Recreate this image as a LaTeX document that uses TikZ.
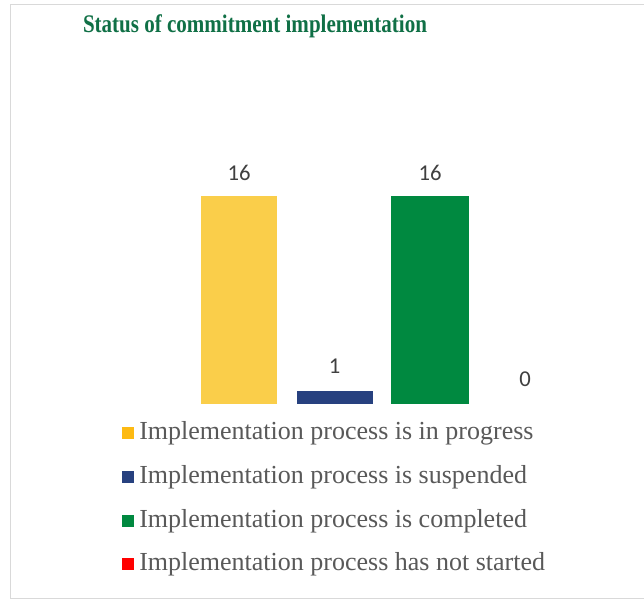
\documentclass[tikz,border=0pt]{standalone}
\usepackage{fontspec}
\setmainfont{Liberation Serif}
\newfontfamily\numfont{Carlito}

\definecolor{framegray}{RGB}{217,217,217}
\definecolor{titlegreen}{RGB}{16,112,70}
\definecolor{textgray}{RGB}{89,89,89}
\definecolor{numgray}{RGB}{64,64,64}
\definecolor{baryellow}{RGB}{250,206,74}
\definecolor{barblue}{RGB}{39,65,127}
\definecolor{bargreen}{RGB}{0,137,64}
\definecolor{keyyellow}{RGB}{253,186,19}
\definecolor{keyred}{RGB}{255,0,0}

\tikzset{
  valuelabel/.style={font=\numfont\fontsize{17}{20}\selectfont, text=numgray, inner sep=0pt},
  keytext/.style={font=\fontsize{19.5}{23}\selectfont, text=textgray, anchor=west, inner sep=0pt},
  keybox/.style={minimum size=9pt, inner sep=0pt}
}

\begin{document}
\begin{tikzpicture}[x=0.75pt,y=-0.75pt]
\useasboundingbox (0,0) rectangle (644,605);
\fill [white] (0,0) rectangle (644,605);
\draw [framegray, line width=1.2pt] (650,4.5) -- (10.5,4.5) -- (10.5,598.5) -- (650,598.5);
\node [font=\bfseries\fontsize{19}{22}\selectfont, text=titlegreen, inner sep=0pt] (title) at (255,26) {\scalebox{0.83}[1]{Status of commitment implementation}};
% bars
\fill [baryellow] (200.7,196) rectangle (277.3,404);
\fill [barblue] (296.7,391) rectangle (373.3,404);
\fill [bargreen] (391.3,196) rectangle (468.7,404);
% values
\node [valuelabel] (v1) at (239,173) {16};
\node [valuelabel] (v2) at (334.5,366) {1};
\node [valuelabel] (v3) at (430,173) {16};
\node [valuelabel] (v4) at (525,379) {0};
% legend
\node [keybox, fill=keyyellow] (k1) at (127.5,433.5) {};
\node [keytext] (t1) at (139,433.5) {Implementation process is in progress};
\node [keybox, fill=barblue] (k2) at (127.5,477.5) {};
\node [keytext] (t2) at (139,477.5) {Implementation process is suspended};
\node [keybox, fill=bargreen] (k3) at (127.5,521.5) {};
\node [keytext] (t3) at (139,521.5) {Implementation process is completed};
\node [keybox, fill=keyred] (k4) at (127.5,564.5) {};
\node [keytext] (t4) at (139,564.5) {Implementation process has not started};
\end{tikzpicture}
\end{document}
